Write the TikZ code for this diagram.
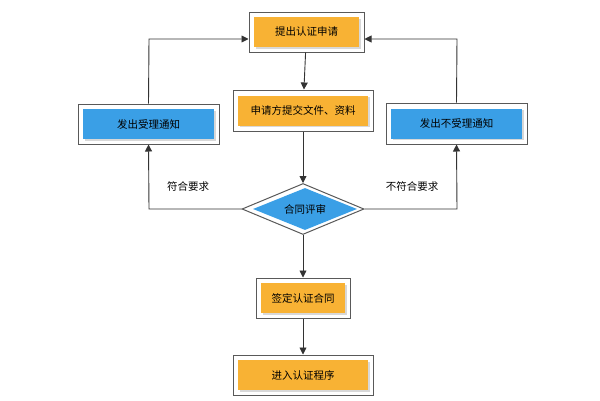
\documentclass[tikz,border=0pt]{standalone}
\usepackage{fontspec}
\newfontfamily\cjk{Noto Sans CJK SC}
\usetikzlibrary{shapes.geometric,arrows.meta,shadows}
\definecolor{org}{HTML}{F8B234}
\definecolor{blu}{HTML}{3A9FE6}
\begin{document}
\begin{tikzpicture}[x=1pt,y=-1pt,font=\cjk\fontsize{10.5}{12}\selectfont,
 frame/.style={draw=gray!70!black,line width=1pt,fill=white,minimum height=40pt,inner sep=0pt},
 inner/.style={minimum height=30pt,inner sep=0pt,drop shadow={shadow xshift=1.5pt,shadow yshift=-1.5pt,fill=gray!60}},
 arr/.style={draw=black!80,line width=0.9pt,-{Triangle[length=7pt,width=7pt]}}]
\useasboundingbox (0,0) rectangle (600,400);
% frames
\node[frame,minimum width=115pt] (a) at (306.5,32) {};
\node[inner,fill=org,minimum width=105pt] at (306.5,32) {提出认证申请};
\node[frame,minimum width=140pt,minimum height=41pt] (b) at (303,110.5) {};
\node[inner,fill=org,minimum width=130pt] at (303,110.5) {申请方提交文件、资料};
\node[frame,minimum width=141pt] (l) at (148.5,124) {};
\node[inner,fill=blu,minimum width=131pt] at (148.5,124) {发出受理通知};
\node[frame,minimum width=141pt,minimum height=41pt] (r) at (456.5,123.5) {};
\node[inner,fill=blu,minimum width=131pt] at (456.5,123.5) {发出不受理通知};
\node[draw=gray!70!black,line width=1pt,fill=white,diamond,aspect=2.4,minimum width=122pt,minimum height=51pt,inner sep=0pt] (d) at (303,209) {};
\node[diamond,fill=blu,aspect=2.4,minimum width=104pt,minimum height=42pt,inner sep=0pt] at (305,209) {合同评审};
\node[frame,minimum width=94pt] (s) at (303,298) {};
\node[inner,fill=org,minimum width=84pt] at (303,298) {签定认证合同};
\node[frame,minimum width=140pt] (e) at (303,375) {};
\node[inner,fill=org,minimum width=130pt] at (303,375) {进入认证程序};
% connectors
\coordinate (lt) at (149,39);
\coordinate (rt) at (457,39);
\coordinate (lb) at (149,209);
\coordinate (rb) at (457,209);
\draw[arr] (l.north) -- (lt) -- (a.west|-lt);
\draw[arr] (r.north) -- (rt) -- (a.east|-rt);
\draw[arr] (a) -- (b);
\draw[arr] (b) -- (d.north);
\draw[arr] (d.west) -- (lb) -- (l.south);
\draw[arr] (d.east) -- (rb) -- (r.south);
\draw[arr] (d.south) -- (s.north);
\draw[arr] (s) -- (e);
\node (t1) at (188,186) {符合要求};
\node (t2) at (412,186) {不符合要求};
\end{tikzpicture}
\end{document}
